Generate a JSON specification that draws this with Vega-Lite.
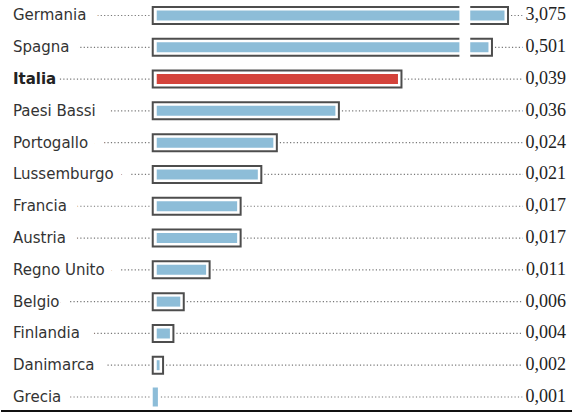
{
  "$schema": "https://vega.github.io/schema/vega-lite/v6.json",
  "width": 588,
  "height": 414,
  "autosize": {"type": "fit", "contains": "padding"},
  "padding": 0,
  "background": "white",
  "config": {
    "view": {"stroke": null},
    "locale": {"number": {"decimal": ",", "thousands": ".", "grouping": [3], "currency": ["", " €"]}}
  },
  "data": {
    "values": [
      {"country": "Germania", "value": 3.075, "drawn": 0.0687},
      {"country": "Spagna", "value": 0.501, "drawn": 0.0656},
      {"country": "Italia", "value": 0.039, "drawn": 0.0481},
      {"country": "Paesi Bassi", "value": 0.036, "drawn": 0.036},
      {"country": "Portogallo", "value": 0.024, "drawn": 0.024},
      {"country": "Lussemburgo", "value": 0.021, "drawn": 0.021},
      {"country": "Francia", "value": 0.017, "drawn": 0.017},
      {"country": "Austria", "value": 0.017, "drawn": 0.017},
      {"country": "Regno Unito", "value": 0.011, "drawn": 0.011},
      {"country": "Belgio", "value": 0.006, "drawn": 0.006},
      {"country": "Finlandia", "value": 0.004, "drawn": 0.004},
      {"country": "Danimarca", "value": 0.002, "drawn": 0.002},
      {"country": "Grecia", "value": 0.001, "drawn": 0.001}
    ]
  },
  "encoding": {
    "y": {"field": "country", "type": "nominal", "sort": null, "axis": null,
          "scale": {"range": [-0.4, 412.9], "paddingInner": 0, "paddingOuter": 0}}
  },
  "layer": [
    {
      "mark": {"type": "rule", "stroke": "#777", "strokeWidth": 1.2, "strokeDash": [1.2, 2.2]},
      "encoding": {
        "x": {"datum": -0.0265, "type": "quantitative", "scale": {"domain": [-0.02934, 0.08417], "nice": false, "zero": false}, "axis": null},
        "x2": {"datum": -0.0002}
      }
    },
    {
      "mark": {"type": "rule", "stroke": "#777", "strokeWidth": 1.2, "strokeDash": [1.2, 2.2], "xOffset": 3},
      "encoding": {
        "x": {"field": "drawn", "type": "quantitative"},
        "x2": {"datum": 0.0775}
      }
    },
    {
      "mark": {"type": "text", "align": "left", "baseline": "middle", "font": "DejaVu Sans", "fontSize": 15, "fill": "white", "stroke": "white", "strokeWidth": 8, "fontWeight": "bold"},
      "encoding": {
        "x": {"datum": -0.02703, "type": "quantitative"},
        "text": {"field": "country"}
      }
    },
    {
      "transform": [{"filter": "datum.country !== 'Italia'"}],
      "mark": {"type": "text", "align": "left", "baseline": "middle", "font": "DejaVu Sans", "fontSize": 15, "fill": "#333"},
      "encoding": {
        "x": {"datum": -0.02703, "type": "quantitative"},
        "text": {"field": "country"}
      }
    },
    {
      "transform": [{"filter": "datum.country === 'Italia'"}],
      "mark": {"type": "text", "align": "left", "baseline": "middle", "font": "DejaVu Sans", "fontSize": 15, "fill": "#222", "fontWeight": "bold"},
      "encoding": {
        "x": {"datum": -0.02703, "type": "quantitative"},
        "text": {"field": "country"}
      }
    },
    {
      "mark": {"type": "text", "align": "right", "baseline": "middle", "font": "Liberation Serif", "fontSize": 18, "fill": "white", "stroke": "white", "strokeWidth": 7},
      "encoding": {
        "x": {"datum": 0.0799, "type": "quantitative"},
        "text": {"field": "value", "type": "quantitative", "format": ".3f"}
      }
    },
    {
      "mark": {"type": "text", "align": "right", "baseline": "middle", "font": "Liberation Serif", "fontSize": 18, "fill": "#222"},
      "encoding": {
        "x": {"datum": 0.0799, "type": "quantitative"},
        "text": {"field": "value", "type": "quantitative", "format": ".3f"}
      }
    },
    {
      "transform": [{"filter": "datum.drawn > 0.0015"}],
      "mark": {"type": "bar", "fill": "white", "stroke": "#4d4d4d", "strokeWidth": 2, "size": 17},
      "encoding": {
        "x": {"field": "drawn", "type": "quantitative"},
        "x2": {"datum": 0}
      }
    },
    {
      "transform": [{"filter": "datum.drawn > 0.0015"}],
      "mark": {"type": "bar", "size": 10, "xOffset": -3.5, "x2Offset": 4},
      "encoding": {
        "x": {"field": "drawn", "type": "quantitative"},
        "x2": {"datum": 0},
        "fill": {"condition": {"test": "datum.country === 'Italia'", "value": "#d4433b"}, "value": "#8dbdd8"}
      }
    },
    {
      "transform": [{"filter": "datum.drawn <= 0.0015"}],
      "mark": {"type": "bar", "size": 19, "fill": "#8dbdd8"},
      "encoding": {
        "x": {"field": "drawn", "type": "quantitative"},
        "x2": {"datum": 0}
      }
    },
    {
      "transform": [{"filter": "datum.value > 0.1"}],
      "mark": {"type": "bar", "size": 24, "fill": "white"},
      "encoding": {
        "x": {"datum": 0.0593, "type": "quantitative"},
        "x2": {"datum": 0.0614}
      }
    },
    {
      "transform": [{"filter": "datum.country === 'Grecia'"}],
      "mark": {"type": "rule", "stroke": "#111", "strokeWidth": 2, "yOffset": 14},
      "encoding": {
        "x": {"datum": -0.02934, "type": "quantitative"},
        "x2": {"datum": 0.08108}
      }
    }
  ]
}
